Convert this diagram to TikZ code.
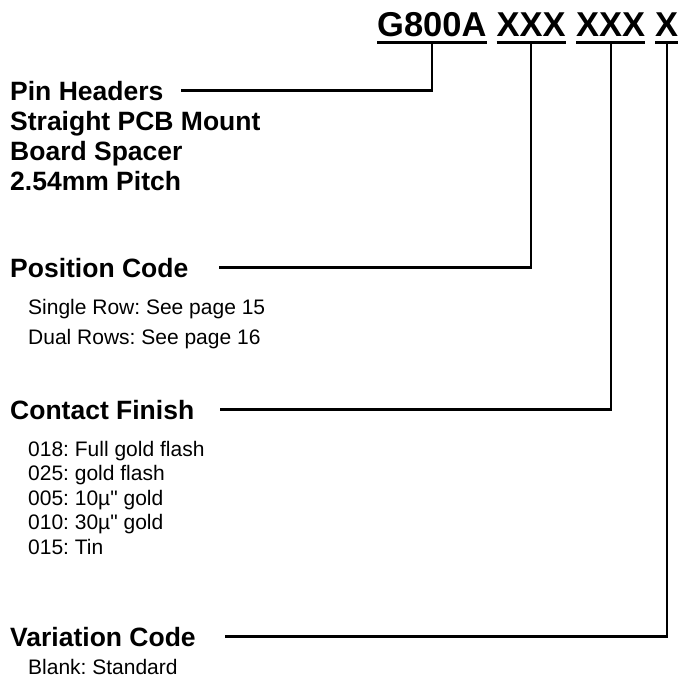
\documentclass[tikz,border=0pt]{standalone}
\usepackage{fontspec}
\setmainfont{Liberation Sans}
\newfontfamily\quotefont{Liberation Sans}
\usetikzlibrary{positioning}
\frenchspacing

\begin{document}
\begin{tikzpicture}[
    x=1pt, y=-1pt,
    code/.style={inner sep=0pt, anchor=base west, font=\fontsize{34.5}{36}\selectfont\bfseries},
    head/.style={inner sep=0pt, anchor=base west, font=\fontsize{26.5}{30}\selectfont\bfseries},
    item/.style={inner sep=0pt, anchor=base west, font=\fontsize{21}{24}\selectfont},
    uline/.style={line width=3.6pt},
    lead/.style={line width=2.3pt}
]
    \useasboundingbox (0,0) rectangle (680,681);

    % Part number
    \node[code] (g800) at (377,36) {G800A};
    \node[code] (pos) at (496.5,36) {XXX};
    \node[code] (fin) at (576,36) {XXX};
    \node[code] (var) at (655,36) {X};
    \foreach \n in {g800,pos,fin,var}
        \draw[uline] ([yshift=-6.5pt]\n.base west) -- ([yshift=-6.5pt]\n.base east);

    % Description
    \node[head] (pinhdr) at (10,100) {Pin Headers};
    \node[head] (straight) at (10,130) {Straight PCB Mount};
    \node[head] (spacer) at (10,160) {Board Spacer};
    \node[head] (pitch) at (10,190) {2.54mm Pitch};

    % Position code
    \node[head] (poshdr) at (10,277) {Position Code};
    \node[item] (single) at (28,314) {Single Row: See page 15};
    \node[item] (dual) at (28,344) {Dual Rows: See page 16};

    % Contact finish
    \node[head] (finhdr) at (10,419) {Contact Finish};
    \node[item] (f018) at (28,456) {018: Full gold flash};
    \node[item] (f025) at (28,480.5) {025: gold flash};
    \node[item] (f005) at (28,505) {005: 10µ{\quotefont"} gold};
    \node[item] (f010) at (28,529.5) {010: 30µ{\quotefont"} gold};
    \node[item] (f015) at (28,554) {015: Tin};

    % Variation code
    \node[head] (varhdr) at (10,646) {Variation Code};
    \node[item] (blank) at (28,674) {Blank: Standard};

    % Leaders
    \draw[lead] ([yshift=-6.5pt]g800.base) |- ([xshift=17pt]pinhdr.east);
    \draw[lead] ([yshift=-6.5pt]pos.base) |- ([xshift=30pt]poshdr.east);
    \draw[lead] ([yshift=-6.5pt]fin.base) |- ([xshift=26pt]finhdr.east);
    \draw[lead] ([yshift=-6.5pt]var.base) |- ([xshift=29pt]varhdr.east);

\end{tikzpicture}
\end{document}
